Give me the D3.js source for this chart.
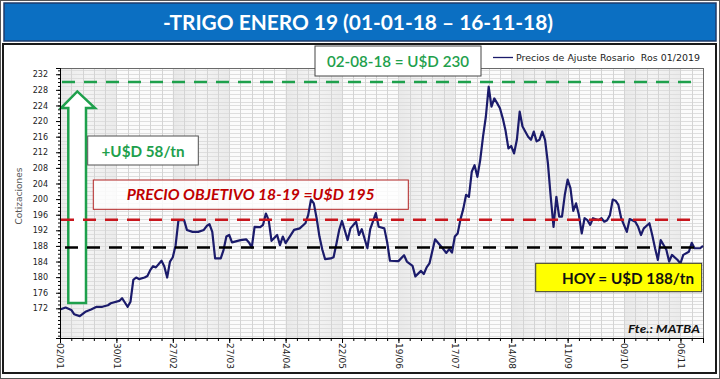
<!DOCTYPE html>
<html><head><meta charset="utf-8">
<script src="https://cdn.jsdelivr.net/npm/d3@7"></script>
<style>body{margin:0;background:#fff;} svg{display:block;}</style>
</head><body>
<svg id="c" width="720" height="379"></svg>
<script>
// ---------------- DATA ----------------
const dates = [
"2018-01-02","2018-01-04","2018-01-08","2018-01-09","2018-01-11","2018-01-15","2018-01-17","2018-01-19","2018-01-23","2018-01-25","2018-01-26","2018-01-31",
"2018-02-01","2018-02-02","2018-02-05","2018-02-06","2018-02-07","2018-02-08","2018-02-09","2018-02-13","2018-02-14","2018-02-15","2018-02-16","2018-02-19","2018-02-21","2018-02-22","2018-02-23","2018-02-26","2018-02-27","2018-02-28",
"2018-03-01","2018-03-05","2018-03-06","2018-03-08","2018-03-12","2018-03-14","2018-03-15","2018-03-16","2018-03-19","2018-03-20","2018-03-22","2018-03-23","2018-03-26","2018-03-27","2018-03-28",
"2018-04-02","2018-04-04","2018-04-05","2018-04-06","2018-04-09","2018-04-11","2018-04-12","2018-04-13","2018-04-16","2018-04-17","2018-04-19","2018-04-20","2018-04-23","2018-04-24","2018-04-27",
"2018-05-01","2018-05-03","2018-05-04","2018-05-07","2018-05-08","2018-05-09","2018-05-10","2018-05-11","2018-05-14","2018-05-16","2018-05-17","2018-05-18","2018-05-21","2018-05-22","2018-05-24","2018-05-25","2018-05-29","2018-05-30","2018-05-31",
"2018-06-04","2018-06-05","2018-06-07","2018-06-08","2018-06-12","2018-06-13","2018-06-14","2018-06-19","2018-06-21","2018-06-22","2018-06-26","2018-06-27","2018-06-29",
"2018-07-02","2018-07-03","2018-07-04","2018-07-06","2018-07-10","2018-07-12","2018-07-13","2018-07-16","2018-07-17","2018-07-18","2018-07-19","2018-07-20","2018-07-23","2018-07-24","2018-07-25","2018-07-26","2018-07-27","2018-07-30","2018-07-31",
"2018-08-01","2018-08-02","2018-08-03","2018-08-06","2018-08-07","2018-08-08","2018-08-09","2018-08-10","2018-08-13","2018-08-14","2018-08-15","2018-08-16","2018-08-17","2018-08-20","2018-08-22","2018-08-23","2018-08-24","2018-08-27","2018-08-28","2018-08-29","2018-08-30","2018-08-31",
"2018-09-03","2018-09-04","2018-09-05","2018-09-06","2018-09-07","2018-09-10","2018-09-11","2018-09-12","2018-09-13","2018-09-14","2018-09-17","2018-09-18","2018-09-19","2018-09-20","2018-09-21","2018-09-24","2018-09-26","2018-09-27","2018-09-28",
"2018-10-01","2018-10-02","2018-10-03","2018-10-04","2018-10-05","2018-10-08","2018-10-10","2018-10-11","2018-10-15","2018-10-16","2018-10-17","2018-10-18","2018-10-22","2018-10-23","2018-10-24","2018-10-25","2018-10-26","2018-10-30","2018-10-31",
"2018-11-01","2018-11-05","2018-11-06","2018-11-07","2018-11-09","2018-11-12","2018-11-13","2018-11-15","2018-11-16"
];
const prices = [
171.7,172.2,171.6,170.5,170.0,171.1,171.7,172.4,172.4,172.8,173.3,173.9,
174.6,173.5,172.4,173.7,179.3,179.9,179.5,179.9,180.3,181.8,182.8,182.5,184.2,182.7,179.9,184.0,185.1,188.2,
194.6,194.6,192.1,191.6,191.6,192.1,193.1,193.6,191.6,184.8,184.8,187.0,190.4,190.8,188.9,
189.5,189.7,188.9,187.6,192.9,192.8,193.4,196.3,194.6,189.3,190.8,188.2,190.4,188.7,192.1,
192.5,193.8,195.9,199.9,198.9,195.1,190.4,187.1,184.6,184.8,185.1,188.5,192.1,194.4,189.5,192.5,194.2,190.8,192.3,
187.4,192.3,196.4,192.9,192.5,189.0,184.2,184.1,185.6,184.0,182.9,180.2,181.6,
180.8,182.5,183.5,189.7,188.0,186.2,187.2,186.3,190.4,191.2,194.8,197.5,201.1,200.6,207.0,208.7,205.7,210.0,216.0,
221.1,228.8,223.7,225.8,224.6,223.3,220.7,217.5,213.0,213.6,211.7,215.2,222.4,218.6,216.0,215.2,217.3,214.8,215.2,217.3,215.2,209.2,
200.6,192.9,200.6,195.5,195.5,201.1,205.0,202.8,197.0,198.9,195.9,191.2,195.1,194.6,193.4,195.1,194.6,195.1,194.2,
194.6,195.9,199.9,199.6,198.5,195.1,191.6,194.9,194.2,192.9,190.8,192.5,193.8,190.8,187.4,184.4,189.5,187.0,184.0,
185.7,184.4,183.5,185.7,186.5,188.8,187.4,187.4,188.0
];
const yTickValues = [172,176,180,184,188,192,196,200,204,208,212,216,220,224,228,232];
const xTickLabels = ["02/01","30/01","27/02","27/03","24/04","22/05","19/06","17/07","14/08","11/09","09/10","06/11"];
const seriesName = "Precios de Ajuste Rosario  Ros 01/2019";
const levelPeak = 230, levelTarget = 194.7, levelToday = 187.6;
const arrowFrom = 173.4, arrowTo = 227.6;
const firstDay = "2018-01-02", lastDay = "2018-11-16";

// ---------------- SETUP ----------------
const parse = d3.timeParse("%Y-%m-%d");
const parseDM = d3.timeParse("%d/%m/%Y");
const tradingDays = d3.timeDays(parse(firstDay), d3.timeDay.offset(parse(lastDay), 1))
  .filter(d => d.getDay() !== 0 && d.getDay() !== 6);
const tIndex = d => d3.bisectLeft(tradingDays, d);
const data = dates.map((d, i) => ({i: tIndex(parse(d)), v: prices[i]}));

const svg = d3.select("#c");
const L = 60, R = 703, T = 68, B = 338;
const x = d3.scaleLinear().domain([0, tradingDays.length - 1]).range([L, R]);
const y = d3.scaleLinear().domain([164.4, 233.6]).range([B, T]);

const GREEN = "#1ea04c", RED = "#c8161d", NAVY = "#1b1b6b";
const CAL = "Lato, 'Open Sans', sans-serif";

// outer frame
svg.append("rect").attr("x",0.5).attr("y",0.5).attr("width",719).attr("height",378)
  .attr("fill","#fff").attr("stroke","#555").attr("stroke-width",1);

// title bar
svg.append("rect").attr("x",4).attr("y",3).attr("width",712).attr("height",38)
  .attr("fill","#0b6fc2").attr("stroke","#1f3b6a").attr("stroke-width",1.5);
svg.append("text").attr("x",358).attr("y",30).attr("text-anchor","middle")
  .attr("fill","#fff").attr("font-family",CAL).attr("font-weight",700).attr("font-size",21)
  .attr("textLength",390).attr("lengthAdjust","spacingAndGlyphs")
  .text("-TRIGO ENERO 19 (01-01-18 \u2013 16-11-18)");

// chart panel
svg.append("rect").attr("x",3).attr("y",44).attr("width",713).attr("height",329)
  .attr("fill","#fff").attr("stroke","#1a1a1a").attr("stroke-width",2);

// plot background bands
const defs = svg.append("defs");
const gr = defs.append("linearGradient").attr("id","band").attr("x1",0).attr("x2",1).attr("y1",0).attr("y2",0);
gr.append("stop").attr("offset",0).attr("stop-color","#e9e9e9");
gr.append("stop").attr("offset",0.5).attr("stop-color","#f4f4f4");
gr.append("stop").attr("offset",1).attr("stop-color","#ebebeb");
const majorIdx = xTickLabels.map(s => tIndex(parseDM(s + "/2018")));
const bandEdges = majorIdx.concat([tradingDays.length - 1]);
svg.append("rect").attr("x",L).attr("y",T).attr("width",R-L).attr("height",B-T).attr("fill","#f8f8f8");
svg.append("g").selectAll("rect").data(d3.range(bandEdges.length - 1)).join("rect")
  .attr("x", k => x(bandEdges[k])).attr("y", T)
  .attr("width", k => x(bandEdges[k+1]) - x(bandEdges[k])).attr("height", B - T)
  .attr("fill", k => k % 2 === 0 ? "url(#band)" : "#fbfbfb");

// grid
const yMinor = d3.range(165, 234, 1);
const xMinor = d3.range(0, tradingDays.length, 4);
svg.append("g").selectAll("line").data(yMinor).join("line")
  .attr("x1",L).attr("x2",R).attr("y1",d=>Math.round(y(d))+0.5).attr("y2",d=>Math.round(y(d))+0.5)
  .attr("stroke","#dedede").attr("stroke-width",1);
svg.append("g").selectAll("line").data(xMinor).join("line")
  .attr("y1",T).attr("y2",B).attr("x1",d=>Math.round(x(d))+0.5).attr("x2",d=>Math.round(x(d))+0.5)
  .attr("stroke","#d4d4d4").attr("stroke-width",1);

// plot border
svg.append("rect").attr("x",L+0.5).attr("y",T+0.5).attr("width",R-L).attr("height",B-T)
  .attr("fill","none").attr("stroke","#6a6a6a").attr("stroke-width",1);

// green arrow (hollow)
const ax0 = 68.3, ax1 = 86, ah0 = 61, ah1 = 95, atx = 77.3;
const yb = y(arrowFrom), yt = y(arrowTo), yh = yt + 16.6;
svg.append("path")
  .attr("d", `M${ax0},${yb} L${ax1},${yb} L${ax1},${yh} L${ah1},${yh} L${atx},${yt} L${ah0},${yh} L${ax0},${yh} Z`)
  .attr("fill","#fff").attr("stroke",GREEN).attr("stroke-width",2.5).attr("stroke-linejoin","miter");

// PRECIO OBJETIVO box (semi-transparent, under the line)
svg.append("rect").attr("x",93.3).attr("y",180).attr("width",315).attr("height",29.3)
  .attr("fill","#fff").attr("fill-opacity",0.8).attr("stroke","#b22424").attr("stroke-width",1);
svg.append("text").attr("x",126.7).attr("y",199.5)
  .attr("fill","#c00000").attr("font-family",CAL).attr("font-weight",700).attr("font-style","italic").attr("font-size",15)
  .attr("textLength",248).attr("lengthAdjust","spacingAndGlyphs")
  .text("PRECIO OBJETIVO 18-19 =U$D 195");

// price line
svg.append("path").datum(data)
  .attr("d", d3.line().x(d => x(d.i)).y(d => y(d.v)))
  .attr("fill","none").attr("stroke",NAVY).attr("stroke-width",2.2).attr("stroke-linejoin","round");

// dashed levels
const dash = "13,9";
svg.append("line").attr("x1",L+2).attr("x2",697).attr("y1",y(levelPeak)).attr("y2",y(levelPeak))
  .attr("stroke",GREEN).attr("stroke-width",2.6).attr("stroke-dasharray",dash);
svg.append("line").attr("x1",L+1).attr("x2",697).attr("y1",y(levelTarget)).attr("y2",y(levelTarget))
  .attr("stroke",RED).attr("stroke-width",2.6).attr("stroke-dasharray",dash);
svg.append("line").attr("x1",65).attr("x2",703).attr("y1",y(levelToday)).attr("y2",y(levelToday))
  .attr("stroke","#000").attr("stroke-width",2.6).attr("stroke-dasharray",dash);

// +U$D 58/tn box
svg.append("rect").attr("x",87.7).attr("y",136).attr("width",110.6).attr("height",29)
  .attr("fill","#fff").attr("stroke","#505050").attr("stroke-width",1);
svg.append("text").attr("x",143).attr("y",156.5).attr("text-anchor","middle")
  .attr("fill",GREEN).attr("font-family",CAL).attr("font-weight",700).attr("font-size",16)
  .attr("textLength",83).attr("lengthAdjust","spacingAndGlyphs").text("+U$D 58/tn");

// 02-08-18 box
svg.append("rect").attr("x",315).attr("y",46).attr("width",166).attr("height",30)
  .attr("fill","#fff").attr("stroke","#444").attr("stroke-width",1);
svg.append("text").attr("x",398).attr("y",67).attr("text-anchor","middle")
  .attr("fill",GREEN).attr("font-family",CAL).attr("font-weight",600).attr("font-size",16)
  .attr("textLength",142).attr("lengthAdjust","spacingAndGlyphs").text("02-08-18 = U$D 230");

// HOY box
svg.append("rect").attr("x",535.7).attr("y",263.3).attr("width",166).attr("height",28.4)
  .attr("fill","#ffff00").attr("stroke","#333").attr("stroke-width",1);
svg.append("text").attr("x",694).attr("y",284).attr("text-anchor","end")
  .attr("fill","#111").attr("font-family",CAL).attr("font-weight",700).attr("font-size",16)
  .attr("textLength",132).attr("lengthAdjust","spacingAndGlyphs").text("HOY = U$D 188/tn");

// source
svg.append("text").attr("x",700).attr("y",332.5).attr("text-anchor","end")
  .attr("fill","#111").attr("font-family",CAL).attr("font-weight",700).attr("font-style","italic").attr("font-size",12)
  .attr("textLength",72).attr("lengthAdjust","spacingAndGlyphs").text("Fte.: MATBA");

// legend
svg.append("line").attr("x1",493).attr("x2",513).attr("y1",57.5).attr("y2",57.5)
  .attr("stroke",NAVY).attr("stroke-width",1.3);
svg.append("text").attr("x",516).attr("y",60.5).style("white-space","pre")
  .attr("fill","#222").attr("font-family","'DejaVu Sans', sans-serif").attr("font-size",8.6)
  .attr("textLength",184).attr("lengthAdjust","spacingAndGlyphs").text(seriesName);

// axes
const FONT = "'DejaVu Sans', Verdana, sans-serif";
const gy = svg.append("g").attr("transform",`translate(${L},0)`)
  .call(d3.axisLeft(y).tickValues(yMinor).tickSize(2).tickFormat(""));
const gyM = svg.append("g").attr("transform",`translate(${L},0)`)
  .call(d3.axisLeft(y).tickValues(yTickValues).tickSize(4).tickPadding(8).tickFormat(d3.format("d")));
[gy, gyM].forEach(g => { g.select(".domain").attr("stroke","#000"); g.selectAll(".tick line").attr("stroke","#000"); });
gyM.selectAll("text").attr("font-family",FONT).attr("font-size",8).attr("fill","#222");

const gx = svg.append("g").attr("transform",`translate(0,${B})`)
  .call(d3.axisBottom(x).tickValues(xMinor).tickSize(3).tickFormat(""));
const gxM = svg.append("g").attr("transform",`translate(0,${B})`)
  .call(d3.axisBottom(x).tickValues(majorIdx).tickSize(5).tickFormat((d,i) => xTickLabels[i]));
[gx, gxM].forEach(g => { g.select(".domain").attr("stroke","#000"); g.selectAll(".tick line").attr("stroke","#000"); });
gxM.selectAll("text").attr("font-family",FONT).attr("font-size",9).attr("fill","#222")
  .attr("transform","rotate(90)").attr("text-anchor","start").attr("dy","0.35em").attr("x",5).attr("y",0);

// y title
svg.append("text").attr("transform","translate(22,196) rotate(-90)").attr("text-anchor","middle")
  .attr("fill","#555").attr("font-family",FONT).attr("font-size",9).text("Cotizaciones");
</script>
</body></html>
